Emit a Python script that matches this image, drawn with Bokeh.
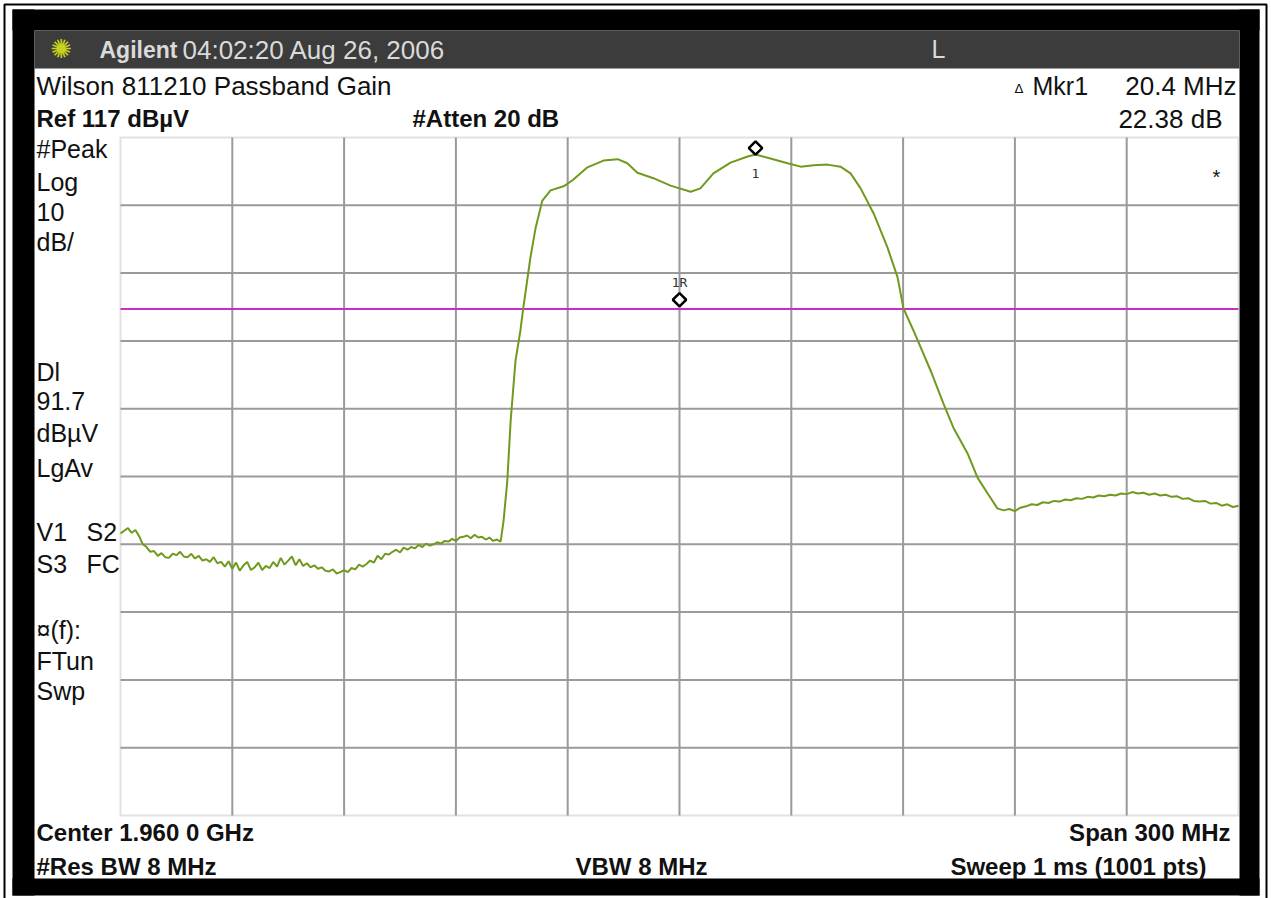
import math

from bokeh.plotting import figure
from bokeh.models import Label, BoxAnnotation, ColumnDataSource
from bokeh.core.properties import value
from bokeh.transform import dodge
from bokeh.embed import file_html
from bokeh.resources import INLINE

# ---------------------------------------------------------------- data
CENTER_MHZ = 1960.0
SPAN_MHZ = 300.0
REF_LEVEL = 117.0          # dBuV, top graticule line
DB_PER_DIV = 10.0
DISPLAY_LINE = 91.7        # dBuV
DELTA_MKR_MHZ = 20.4
DELTA_MKR_DB = 22.38

GRID_FREQS = [1840, 1870, 1900, 1930, 1960, 1990, 2020, 2050, 2080]
GRID_LEVELS = [27, 37, 47, 57, 67, 77, 87, 97, 107]

# swept trace, MHz
FREQ_MHZ = [
    1810, 1811, 1812, 1813, 1814, 1815, 1816, 1817, 1818, 1819,
    1820, 1821, 1822, 1823, 1824, 1825, 1826, 1827, 1828, 1829,
    1830, 1831, 1832, 1833, 1834, 1835, 1836, 1837, 1838, 1839,
    1840, 1841, 1842, 1843, 1844, 1845, 1846, 1847, 1848, 1849,
    1850, 1851, 1852, 1853, 1854, 1855, 1856, 1857, 1858, 1859,
    1860, 1861, 1862, 1863, 1864, 1865, 1866, 1867, 1868, 1869,
    1870, 1871, 1872, 1873, 1874, 1875, 1876, 1877, 1878, 1879,
    1880, 1881, 1882, 1883, 1884, 1885, 1886, 1887, 1888, 1889,
    1890, 1891, 1892, 1893, 1894, 1895, 1896, 1897, 1898, 1899,
    1900, 1901, 1902, 1903, 1904, 1905, 1906, 1907, 1908, 1909,
    1910, 1911, 1912,
    1912.8, 1913.8, 1914.7, 1916.0, 1917.3, 1918.1, 1920.0, 1921.4,
    1923.2, 1925.4, 1928.9, 1931.3, 1935.3, 1939.6, 1943.4, 1946.0,
    1948.7, 1953.0, 1957.6, 1963.0, 1965.6, 1969.1, 1973.7, 1978.3,
    1980.4, 1984.4, 1989.0, 1992.5, 1996.0, 1999.7, 2003.2, 2005.9,
    2008.6, 2012.1, 2015.8, 2018.5, 2020.1, 2022.8, 2027.4, 2030.8,
    2033.5, 2037.3, 2040.0, 2042.7, 2045.3,
    2047.0, 2048.5, 2050.0, 2051.5, 2053.0, 2054.5, 2056.0, 2057.5,
    2059.0, 2060.5, 2062.0, 2063.5, 2065.0, 2066.5, 2068.0, 2069.5,
    2071.0, 2072.5, 2074.0, 2075.5, 2077.0, 2078.5, 2080.0, 2081.5,
    2083.0, 2084.5, 2086.0, 2087.5, 2089.0, 2090.5, 2092.0, 2093.5,
    2095.0, 2096.5, 2098.0, 2099.5, 2101.0, 2102.5, 2104.0, 2105.5,
    2107.0, 2108.5, 2110.0,
]

# swept trace, dBuV
LEVEL_DBUV = [
    58.6, 59.0, 59.4, 58.7, 59.1, 58.2, 57.0, 56.6, 55.9, 56.0,
    55.3, 55.7, 55.1, 55.0, 55.6, 55.4, 55.9, 55.2, 55.1, 55.6,
    54.9, 55.3, 54.6, 54.8, 54.4, 55.1, 54.2, 54.4, 53.7, 54.5,
    53.4, 54.3, 53.1, 53.9, 54.4, 53.2, 53.6, 54.3, 53.2, 53.8,
    53.5, 54.4, 53.7, 55.0, 54.0, 54.6, 55.2, 53.9, 54.8, 53.8,
    54.2, 53.6, 53.9, 53.4, 53.6, 53.1, 53.0, 53.3, 52.7, 52.9,
    53.2, 52.9, 53.5, 53.3, 54.0, 53.7, 54.1, 54.6, 54.3, 55.3,
    54.8, 55.6, 55.5, 55.9, 56.2, 55.8, 56.5, 56.2, 56.6, 56.4,
    56.9, 56.6, 57.1, 56.8, 57.0, 57.3, 57.1, 57.5, 57.4, 57.8,
    57.5, 58.0, 58.1, 58.3, 57.9, 58.4, 58.0, 58.1, 57.7, 58.0,
    57.5, 57.7, 57.4,
    60.5, 66.4, 75.3, 84.1, 88.5, 91.9, 99.3, 103.7,
    107.7, 109.2, 109.8, 110.7, 112.6, 113.6, 113.8, 113.2,
    111.8, 111.0, 109.9, 109.0, 109.5, 111.7, 113.3, 114.2,
    114.5, 113.9, 113.2, 112.7, 112.9, 113.0, 112.7, 111.7,
    109.5, 105.8, 100.8, 96.4, 91.8, 88.5, 82.6, 77.8,
    74.2, 70.4, 66.8, 64.5, 62.3,
    62.0, 62.2, 61.9, 62.4, 62.6, 62.9, 62.8, 63.2,
    63.1, 63.4, 63.3, 63.6, 63.5, 63.8, 63.7, 64.0,
    63.9, 64.2, 64.1, 64.3, 64.2, 64.5, 64.4, 64.7,
    64.5, 64.6, 64.3, 64.5, 64.2, 64.3, 64.0, 64.1,
    63.7, 63.8, 63.4, 63.3, 63.4, 63.0, 63.1, 62.7,
    62.9, 62.5, 62.7,
]

# markers: reference (1R) and delta (1)
MKR_DELTA_LEVEL = 114.5
MARKER_FREQ = [CENTER_MHZ, CENTER_MHZ + DELTA_MKR_MHZ]
MARKER_LEVEL = [MKR_DELTA_LEVEL - DELTA_MKR_DB, MKR_DELTA_LEVEL]
MARKER_TEXT = ["1R", "1"]

# ---------------------------------------------------------------- layout
W, H = 1271, 898
# graticule rectangle in canvas pixels (left, right, top, bottom)
G_LEFT, G_RIGHT, G_TOP, G_BOTTOM = 120, 1238, 137, 815

X_START = CENTER_MHZ - SPAN_MHZ / 2
X_END = CENTER_MHZ + SPAN_MHZ / 2
Y_START = REF_LEVEL - 10 * DB_PER_DIV

# the plot frame fills the whole canvas; widen the ranges so that the
# graticule occupies its rectangle and the bezel / readouts sit around it
px_per_mhz = (G_RIGHT - G_LEFT) / SPAN_MHZ
px_per_db = (G_BOTTOM - G_TOP) / (REF_LEVEL - Y_START)
x_range = (X_START - G_LEFT / px_per_mhz, X_END + (W - G_RIGHT) / px_per_mhz)
y_range = (Y_START - (H - G_BOTTOM) / px_per_db, REF_LEVEL + G_TOP / px_per_db)

GRID_COLOR = "#9a9a9a"
TRACE_COLOR = "#6f9a1e"
DL_COLOR = "#c62ec6"
INK = "#111111"
HEADER_INK = "#dadada"
FONT = "Liberation Sans"
FS = "25px"
FS_BOLD = "24px"


def sx(X):
    """canvas pixel column -> screen units"""
    return X


def sy(Y):
    """canvas pixel row (top-down) -> screen units (bottom-up)"""
    return H - Y


p = figure(
    width=W, height=H, x_range=x_range, y_range=y_range,
    output_backend="svg", toolbar_location=None,
    x_axis_location=None, y_axis_location=None, title_location=None,
    min_border=0,
)
p.background_fill_color = "white"
p.border_fill_color = "white"
p.outline_line_color = None
p.grid.visible = False

# bezel, header bar and outer rule
def box(l, r, t, b, **kw):
    kw.setdefault("fill_color", "black")
    kw.setdefault("fill_alpha", 1.0)
    kw.setdefault("line_alpha", 0.0)
    p.add_layout(BoxAnnotation(left=sx(l), right=sx(r), top=sy(t), bottom=sy(b),
                               left_units="screen", right_units="screen",
                               top_units="screen", bottom_units="screen",
                               level="underlay", **kw))

box(4, 1266, 4, 905, fill_alpha=0.0, line_color="black", line_alpha=1.0, line_width=2)
box(12, 1259, 9, 30)
box(12, 34, 9, 895)
box(1239, 1259, 9, 895)
box(12, 1259, 878, 895)
box(34, 1239, 30, 68, fill_color="#3c3c3c")

# graticule
p.segment(x0=GRID_FREQS, y0=[Y_START] * len(GRID_FREQS),
          x1=GRID_FREQS, y1=[REF_LEVEL] * len(GRID_FREQS),
          line_color=GRID_COLOR, line_width=2)
p.segment(x0=[X_START] * len(GRID_LEVELS), y0=GRID_LEVELS,
          x1=[X_END] * len(GRID_LEVELS), y1=GRID_LEVELS,
          line_color=GRID_COLOR, line_width=2)
p.add_layout(BoxAnnotation(left=X_START, right=X_END, bottom=Y_START, top=REF_LEVEL,
                           fill_alpha=0.0, line_color=GRID_COLOR, line_width=2,
                           level="underlay"))

# display line
p.segment(x0=[X_START], y0=[DISPLAY_LINE], x1=[X_END], y1=[DISPLAY_LINE],
          line_color=DL_COLOR, line_width=2)

# trace
p.line(FREQ_MHZ, LEVEL_DBUV, line_color=TRACE_COLOR, line_width=2)

# markers (diamond sits just above its point)
msrc = ColumnDataSource(dict(f=MARKER_FREQ, lvl=MARKER_LEVEL, txt=MARKER_TEXT,
                             dy=[-24, 19]))
p.scatter(x="f", y=dodge("lvl", 0.95), source=msrc, marker="square",
          angle=math.pi / 4, size=9.5,
          fill_color="white", line_color="black", line_width=2.5)
p.text(x="f", y="lvl", text="txt", y_offset="dy", source=msrc,
       text_font=value("DejaVu Sans Mono"), text_font_size="13px",
       text_color="#333333", text_align="center", text_baseline="middle")


def label(X, Y, text, align="left", size=FS, color=INK, font=FONT, style="normal"):
    p.add_layout(Label(x=sx(X), y=sy(Y), x_units="screen", y_units="screen",
                       text=text, text_align=align, text_baseline="middle",
                       text_font=font, text_font_size=size, text_color=color,
                       text_font_style=style))


def bold(X, Y, text, align="left"):
    label(X, Y, text, align=align, size=FS_BOLD, style="bold")


# header bar
label(61, 48, "\u273a", align="center", size="26px", color="#c8d21e", font="DejaVu Sans")
label(99, 49, "Agilent", style="bold", size="23px", color=HEADER_INK)
label(182, 49, "04:02:20  Aug 26, 2006", size="26px", color=HEADER_INK)
label(931, 48, "L", color=HEADER_INK)

# annotation rows above the graticule
label(36, 85, "Wilson 811210 Passband Gain", size="26px")
label(1014, 88, "\u0394", size="13px", font="DejaVu Sans")
label(1032, 85, "Mkr1")
label(1236, 85, f"{DELTA_MKR_MHZ:.1f} MHz", align="right", size="26px")
bold(36, 118, f"Ref {REF_LEVEL:.0f} dB\u00b5V")
bold(412, 118, "#Atten 20 dB")
label(1222, 118, f"{DELTA_MKR_DB:.2f} dB", align="right", size="26px")
label(1212, 176, "*", size="20px")

# left status column
for Y, t in [(148, "#Peak"), (181, "Log"), (211, f"{DB_PER_DIV:.0f}"), (241, "dB/"),
             (371, "Dl"), (400, f"{DISPLAY_LINE:.1f}"), (432, "dB\u00b5V"), (467, "LgAv"),
             (531, "V1"), (563, "S3"), (629, "\u00a4(f):"), (660, "FTun"), (690, "Swp")]:
    label(36, Y, t)
label(86, 531, "S2")
label(86, 563, "FC")

# rows below the graticule
bold(36, 832, f"Center {CENTER_MHZ/1000:.3f} 0 GHz")
bold(1230, 832, f"Span {SPAN_MHZ:.0f} MHz", align="right")
bold(36, 866, "#Res BW 8 MHz")
bold(641, 866, "VBW 8 MHz", align="center")
bold(1206, 866, "Sweep 1 ms (1001 pts)", align="right")

open("out.html", "w").write(file_html(p, INLINE))
